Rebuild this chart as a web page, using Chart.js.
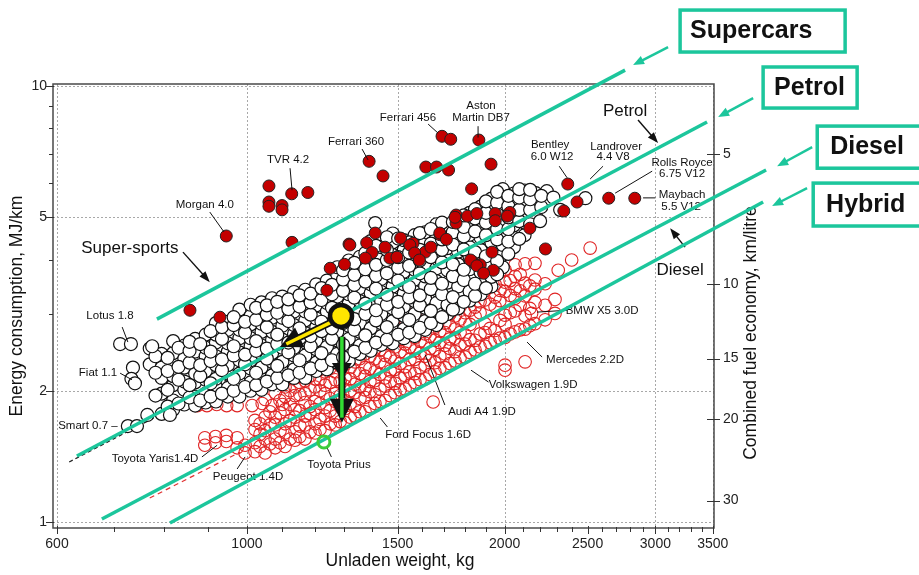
<!DOCTYPE html>
<html><head><meta charset="utf-8">
<script src="https://cdn.jsdelivr.net/npm/chart.js@4.4.0/dist/chart.umd.min.js"></script>
<style>html,body{margin:0;padding:0;background:#fff;}canvas{display:block;}</style>
</head><body>
<canvas id="c" width="919" height="575"></canvas>
<script>
// ---------------- DATA ----------------
const xTicks = [600,1000,1500,2000,2500,3000,3500];
const xMinorTicks = [700,800,900,1100,1200,1300,1400,1600,1700,1800,1900,2100,2200,2300,2400,2600,2700,2800,2900,3100,3200,3300,3400];
const xGridValues = [600,1000,1500,2000,3000,3500];
const yTicks = [1,2,5,10];
const yMinorTicks = [3,4,6,7,8,9];
const econTicks = [5,10,15,20,30];               // km/litre (right axis)
const econTickMJ = [6.98,3.52,2.37,1.72,1.12];   // their MJ/km positions

// petrol cars (white circles): [weight kg, [MJ/km ...]]
const petrolCols = [
 [770,[2.3,2.5]],
 [795,[1.77,1.97,2.14,2.26,2.43]],
 [820,[1.81,1.9,2.06,2.16,2.33,2.44,2.6]],
 [845,[1.86,2.01,2.1,2.26,2.37,2.54]],
 [870,[1.85,1.94,2.09,2.19,2.35,2.46,2.63]],
 [895,[1.88,1.97,2.12,2.22,2.4,2.51,2.69]],
 [920,[1.89,2.04,2.13,2.29,2.4,2.58,2.69,2.86]],
 [950,[1.94,2.03,2.19,2.29,2.46,2.57,2.76,2.88]],
 [980,[1.94,2.09,2.19,2.35,2.45,2.64,2.76,2.97,3.07]],
 [1010,[2.0,2.09,2.25,2.35,2.53,2.64,2.84,2.97,3.15]],
 [1040,[2.01,2.16,2.26,2.43,2.54,2.73,2.85,3.06,3.19]],
 [1070,[2.07,2.17,2.33,2.44,2.62,2.73,2.94,3.07,3.26]],
 [1100,[2.07,2.23,2.33,2.51,2.62,2.82,2.94,3.16,3.29]],
 [1135,[2.14,2.24,2.41,2.51,2.7,2.83,3.04,3.18,3.37]],
 [1170,[2.14,2.3,2.41,2.58,2.71,2.9,3.04,3.26,3.41]],
 [1205,[2.22,2.32,2.49,2.61,2.8,2.93,3.14,3.29,3.51]],
 [1240,[2.24,2.41,2.52,2.7,2.83,3.04,3.18,3.41,3.58]],
 [1275,[2.32,2.43,2.61,2.73,2.93,3.07,3.29,3.45,3.7,3.84]],
 [1315,[2.34,2.51,2.63,2.82,2.96,3.17,3.33,3.56,3.74,3.98]],
 [1355,[2.43,2.54,2.73,2.86,3.06,3.21,3.44,3.61,3.87,4.06]],
 [1395,[2.47,2.65,2.78,2.98,3.12,3.35,3.51,3.76,3.95,4.22,4.41]],
 [1435,[2.55,2.67,2.86,3.0,3.21,3.37,3.61,3.79,4.05,4.27]],
 [1480,[2.57,2.75,2.89,3.09,3.25,3.47,3.65,3.9,4.1,4.38,4.59]],
 [1525,[2.64,2.77,2.97,3.12,3.34,3.51,3.75,3.94,4.21,4.43]],
 [1570,[2.67,2.86,3.0,3.21,3.37,3.6,3.79,4.05,4.26,4.55]],
 [1615,[2.76,2.89,3.1,3.25,3.48,3.66,3.91,4.11,4.39,4.62]],
 [1665,[2.83,3.03,3.18,3.4,3.57,3.82,4.02,4.29,4.52,4.82]],
 [1715,[3.0,3.15,3.37,3.54,3.78,3.98,4.25,4.47,4.77]],
 [1765,[3.09,3.31,3.47,3.71,3.9,4.17,4.39,4.68,4.93]],
 [1820,[3.22,3.38,3.62,3.8,4.06,4.27,4.56,4.8,5.12]],
 [1875,[3.33,3.56,3.74,4.0,4.21,4.49,4.73,5.04,5.29]],
 [1930,[3.47,3.65,3.9,4.1,4.38,4.61,4.92,5.18,5.52]],
 [1990,[3.84,4.1,4.32,4.61,4.85,5.17,5.45,5.8]],
 [2050,[4.27,4.49,4.79,5.05,5.38,5.67]],
 [2110,[4.55,4.86,5.12,5.46,5.76]],
 [2175,[5.04,5.31,5.68]],
 [2240,[5.52,5.74]]
];
const petrolCols2 = [
 [782,[1.95,2.2,2.4]],
 [808,[1.84,2.01,2.22,2.38]],
 [832,[1.87,2.12,2.27,2.51]],
 [857,[1.93,2.06,2.32,2.47,2.59]],
 [882,[1.9,2.16,2.29,2.56]],
 [907,[1.94,2.08,2.34,2.46,2.74]],
 [935,[1.97,2.23,2.36,2.63,2.8]],
 [965,[2.0,2.13,2.41,2.53,2.83,2.95]],
 [995,[2.04,2.3,2.42,2.72,2.88]],
 [1025,[2.06,2.2,2.47,2.6,2.91,3.1]],
 [1055,[2.1,2.37,2.5,2.8,2.99,3.14]],
 [1085,[2.14,2.28,2.56,2.69,3.02,3.2]],
 [1118,[2.17,2.45,2.58,2.89,3.08,3.24]],
 [1152,[2.2,2.35,2.64,2.78,3.12,3.31]],
 [1187,[2.25,2.53,2.67,2.99,3.19,3.34]],
 [1222,[2.29,2.44,2.74,2.88,3.23,3.44]],
 [1257,[2.35,2.63,2.78,3.1,3.33,3.5]],
 [1295,[2.39,2.55,2.86,3.01,3.39,3.6,3.78]],
 [1335,[2.46,2.76,2.92,3.27,3.5,3.69,3.93]],
 [1375,[2.51,2.68,3.0,3.17,3.56,3.8,4.14]],
 [1415,[2.58,2.9,3.06,3.43,3.67,3.89,4.3]],
 [1457,[2.62,2.8,3.15,3.32,3.72,3.99,4.21,4.5]],
 [1502,[2.69,3.03,3.2,3.58,3.83,4.05,4.47]],
 [1547,[2.72,2.91,3.27,3.46,3.87,4.15,4.38]],
 [1592,[2.79,3.14,3.31,3.72,3.98,4.21,4.6]],
 [1640,[2.86,3.05,3.42,3.63,4.05,4.35,4.7]],
 [1690,[2.95,3.33,3.52,3.94,4.21,4.45,4.86]],
 [1740,[3.07,3.28,3.66,3.9,4.33,4.62,4.88]],
 [1792,[3.2,3.59,3.79,4.22,4.52,4.75,5.05]],
 [1847,[3.3,3.52,3.94,4.16,4.64,4.97,5.22]],
 [1902,[3.44,3.87,4.07,4.55,4.86,5.12,5.44]],
 [1960,[3.7,3.97,4.45,4.7,5.08,5.4,5.72]],
 [2020,[4.12,4.4,4.7,5.0,5.3,5.6]],
 [2080,[4.46,4.9,5.2,5.55,5.8]],
 [2142,[4.82,5.2,5.5,5.78]],
 [2207,[5.28,5.6]]
];
const petrolExtra = [[711,2.56],[732,2.56],[775,2.53],[736,2.26],[733,2.13],[740,2.08],[726,1.66],[744,1.66],
 [765,1.76],[813,1.76],[2322,5.2],[2280,5.55],[2485,5.53],[2200,4.9],[1412,4.85]];

// diesel cars (red open circles)
const dieselCols = [
 [1022,[1.45,1.52,1.63,1.71]],
 [1050,[1.44,1.55,1.62,1.74,1.91]],
 [1079,[1.48,1.55,1.67,1.74,1.98]],
 [1108,[1.49,1.6,1.68,1.81,1.94,2.04]],
 [1138,[1.54,1.61,1.74,1.81,1.95,2.04,2.14]],
 [1169,[1.55,1.67,1.75,1.88,1.97,2.11,2.2]],
 [1201,[1.6,1.68,1.81,1.89,2.04,2.13,2.26]],
 [1234,[1.62,1.75,1.83,1.97,2.06,2.21,2.29]],
 [1268,[1.67,1.75,1.89,1.97,2.12,2.21,2.35]],
 [1302,[1.69,1.82,1.9,2.05,2.14,2.3,2.39]],
 [1337,[1.75,1.84,1.98,2.07,2.22,2.33,2.48]],
 [1374,[1.79,1.93,2.01,2.16,2.26,2.43,2.54]],
 [1411,[1.87,1.96,2.11,2.21,2.37,2.49,2.66]],
 [1450,[1.9,2.05,2.14,2.3,2.41,2.59,2.71]],
 [1489,[1.98,2.08,2.24,2.34,2.52,2.64,2.81]],
 [1530,[2.02,2.17,2.27,2.44,2.56,2.74,2.88,3.03]],
 [1571,[2.09,2.19,2.36,2.47,2.65,2.78,2.98,3.13]],
 [1615,[2.13,2.29,2.4,2.57,2.7,2.89,3.03,3.26]],
 [1658,[2.21,2.32,2.49,2.61,2.8,2.94,3.15,3.34]],
 [1703,[2.26,2.43,2.54,2.72,2.86,3.06,3.21,3.43]],
 [1750,[2.34,2.46,2.64,2.77,2.97,3.11,3.33,3.5,3.73]],
 [1798,[2.39,2.56,2.69,2.88,3.02,3.23,3.39,3.62,3.77]],
 [1847,[2.48,2.61,2.96,3.11,3.32,3.49,3.73]],
 [1897,[2.53,2.72,2.85,3.23,3.39,3.62,3.81]],
 [1949,[2.61,2.75,3.12,3.28,3.51,3.69,3.88]],
 [2002,[2.65,2.84,2.98,3.38,3.55,3.79]],
 [2057,[2.73,3.05,3.26,3.43,3.66,3.89]],
 [2113,[2.77,2.97,3.3,3.53,3.91]],
 [2170,[2.85,3.19,3.42,3.59,3.92]],
 [2230,[2.91,3.14,3.52]],
 [2290,[3.01,3.24]]
];
const dieselCols2 = [
 [1036,[1.49,1.59,1.68]],
 [1064,[1.51,1.67,1.79]],
 [1093,[1.52,1.62,1.78,1.9]],
 [1123,[1.55,1.71,1.86,2.0]],
 [1153,[1.57,1.66,1.8,1.96,2.09]],
 [1185,[1.61,1.77,1.84,2.01,2.16]],
 [1217,[1.63,1.72,1.87,2.0,2.12,2.24]],
 [1251,[1.68,1.8,1.92,2.09,2.26]],
 [1285,[1.7,1.84,1.95,2.1,2.28]],
 [1320,[1.74,1.87,2.0,2.13,2.26,2.43]],
 [1355,[1.79,1.92,2.04,2.19,2.37,2.5]],
 [1392,[1.84,1.99,2.1,2.25,2.4,2.58]],
 [1430,[1.89,2.02,2.18,2.33,2.48,2.66]],
 [1470,[1.95,2.1,2.22,2.39,2.56,2.74]],
 [1510,[2.01,2.14,2.31,2.46,2.62,2.83]],
 [1550,[2.06,2.21,2.36,2.52,2.7,2.86,3.09]],
 [1593,[2.12,2.26,2.44,2.6,2.77,2.97,3.18]],
 [1636,[2.18,2.35,2.5,2.67,2.84,3.07,3.28]],
 [1680,[2.25,2.4,2.58,2.74,2.93,3.12,3.37]],
 [1726,[2.31,2.5,2.63,2.82,3.0,3.22,3.45]],
 [1774,[2.38,2.55,2.72,2.92,3.12,3.3,3.55]],
 [1822,[2.45,2.62,2.84,3.06,3.26,3.44,3.66]],
 [1872,[2.52,2.7,3.02,3.2,3.55]],
 [1923,[2.58,2.78,3.16,3.46,3.64]],
 [1975,[2.64,2.9,3.22,3.4,3.74]],
 [2030,[2.7,3.02,3.31,3.58]],
 [2085,[2.76,3.14,3.39,3.7]],
 [2140,[2.82,3.09,3.48]]
];
const dieselExtra = [[875,1.85],[898,1.85],[922,1.86],[947,1.85],[974,1.85],[1014,1.85],[1042,1.87],[1070,1.85],[1100,1.86],
 [893,1.5],[893,1.56],[919,1.52],[919,1.57],[946,1.53],[946,1.58],[974,1.48],[974,1.56],[995,1.44],[995,1.5],
 [2517,4.25],[2310,3.78],[2395,3.99],[1650,1.885],[2002,2.29],[2002,2.23],[2113,2.33],[2150,3.01]];

// sports / supercars (red filled)
const superCars = [
 [1061,5.9],[1061,5.42],[1061,5.3],[1099,5.32],[1099,5.2],[1128,5.66],[1178,5.7],[946,4.53],[858,3.06],[930,2.95],
 [1251,3.82],[1240,3.4],[1316,4.34],[1380,4.37],[1400,4.15],[1412,4.6],[1300,3.9],[1129,4.38],
 [1389,6.72],[1442,6.22],[1690,7.67],[1730,7.55],[1866,7.52],[1618,6.52],[1665,6.52],[1720,6.42],[1928,6.62],[1830,5.81],
 [2370,5.96],[2430,5.42],[2345,5.17],[2646,5.53],[2838,5.53],[2140,4.72],[2232,4.23],
 [1755,5.06],[1810,5.03],[1856,5.1],[1950,5.1],[2028,5.13],[1950,4.91],[2015,5.03],[1755,4.85],
 [1512,4.48],[1450,4.27],[1563,4.36],[1615,4.16],[1681,4.56],[1750,5.0],[1837,3.95],[1873,3.89],[1940,3.78],
 [1933,4.16],[1469,4.03],[1375,4.03],[1550,4.32],[1680,4.6],[1710,4.45],[1640,4.27],[1497,4.05],[1570,4.14],
 [1590,3.99],[1825,3.99],[1856,3.87],[1890,3.72],[1319,4.32]
];

const priusPt = [[1230,1.526]];
const focusPt = [[1288,2.97]];

// trend lines [weight, MJ/km]
const superLine  = [[785,2.92],[2765,10.88]];
const petrolLine = [[633,1.417],[3447,8.27]];
const dieselLine = [[677,1.016],[4040,6.42]];
const hybridLine = [[813,0.995],[4008,5.42]];
const petrolFit  = [[620,1.373],[1000,2.24]];
const dieselFit  = [[770,1.135],[982,1.447]];

// annotations (anchored in data coordinates)
const noteLabels = [
 ['TVR 4.2',1117,6.77],['Morgan 4.0',893,5.34],['Ferrari 360',1341,7.44],['Ferrari 456',1542,8.45],
 ['Aston',1877,9.0],['Martin DB7',1877,8.45],['Bentley',2260,7.32],['6.0 W12',2272,6.87],
 ['Landrover',2699,7.24],['4.4 V8',2677,6.87],['Rolls Royce',3223,6.66],['6.75 V12',3223,6.28],
 ['Maybach',3223,5.62],['5.5 V12',3215,5.28],['Lotus 1.8',692,2.97],['Fiat 1.1',670,2.195],
 ['Smart 0.7 \u2013',652,1.66],['Toyota Yaris1.4D',781,1.395],['Peugeot 1.4D',1003,1.268],
 ['Toyota Prius',1281,1.351],['Ford Focus 1.6D',1628,1.582],['Audi A4 1.9D',1882,1.787],
 ['Volkswagen 1.9D',2159,2.062],['Mercedes 2.2D',2483,2.35],['BMW X5 3.0D',2599,3.05]
];
const bigLabels = [['Super-sports',730,4.25],['Petrol',2765,8.76],['Diesel',3206,3.78]];
const leaders = [
 [[1123,6.48],[1129,5.77]],[[905,5.14],[940,4.63]],[[1363,7.17],[1385,6.77]],[[1628,8.18],[1672,7.8]],
 [[1862,8.09],[1862,7.62]],[[2316,6.55],[2366,6.16]],[[2606,6.55],[2517,6.12]],[[2974,6.38],[2692,5.68]],
 [[2902,5.54],[3000,5.54]],[[715,2.8],[726,2.587]],[[711,2.195],[734,2.12]],[[886,1.41],[923,1.5]],
 [[974,1.323],[995,1.41]],[[1241,1.478],[1255,1.41]],[[1431,1.732],[1459,1.652]],[[1615,2.42],[1703,1.855]],
 [[1827,2.23],[1915,2.094]],[[2124,2.587],[2212,2.39]],[[2182,3.03],[2366,3.06]]
];
const noteArrows = [[[842,4.16],[905,3.55]],[[2863,8.36],[3022,7.4]],[[3249,4.27],[3121,4.72]]];
const yellowArrow = [[1267,2.9],[1093,2.52]];
const greenArrow = [[1291,2.66],[1291,1.69]];
const greenGhostHead = [[1291,2.316],[1291,2.12]];
const callouts = [
 ['Supercars',[3206,14.94],[4997,11.97],[3293,13.37],[[3104,12.29],[2825,11.17]]],
 ['Petrol',[4008,11.06],[5161,8.904],[4128,9.895],[[3902,9.387],[3551,8.49]]],
 ['Diesel',[4636,8.095],[6300,6.48],[4800,7.24],[[4573,7.24],[4162,6.55]]],
 ['Hybrid',[4586,5.99],[6300,4.775],[4748,5.34],[[4511,5.834],[4106,5.307]]]
];

// ---------------- CHART ----------------
const FONT = '"Liberation Sans", Arial, Helvetica, sans-serif';
const TEAL = '#1cc69c';
const pts = a => a.map(([x,y]) => ({x, y}));
const cols = c => c.flatMap(([w,es]) => es.map(e => ({x:w, y:e})));

function P(chart, p){ return [chart.scales.x.getPixelForValue(p[0]), chart.scales.y.getPixelForValue(p[1])]; }
function seg(ctx,a,b,lw,col){ ctx.strokeStyle=col; ctx.lineWidth=lw; ctx.beginPath(); ctx.moveTo(a[0],a[1]); ctx.lineTo(b[0],b[1]); ctx.stroke(); }
function head(ctx,from,tip,len,w,col){
  const dx=tip[0]-from[0], dy=tip[1]-from[1], d=Math.hypot(dx,dy), ux=dx/d, uy=dy/d;
  const bx=tip[0]-ux*len, by=tip[1]-uy*len;
  ctx.fillStyle=col; ctx.beginPath(); ctx.moveTo(tip[0],tip[1]);
  ctx.lineTo(bx-uy*w/2, by+ux*w/2); ctx.lineTo(bx+uy*w/2, by-ux*w/2); ctx.closePath(); ctx.fill();
  return [bx,by];
}
function arrow(ctx,a,b,lw,col,len,w){
  const dx=b[0]-a[0], dy=b[1]-a[1], d=Math.hypot(dx,dy);
  const base=[b[0]-dx/d*len*0.8, b[1]-dy/d*len*0.8];
  seg(ctx,a,base,lw,col); head(ctx,a,b,len,w,col);
}

let labelsDrawn = false;
function drawLabels(chart){
  const ctx = chart.ctx; ctx.save();
  ctx.fillStyle='#111'; ctx.textAlign='center'; ctx.textBaseline='middle';
  ctx.font = '11.5px '+FONT;
  noteLabels.forEach(([t,x,y]) => { const p=P(chart,[x,y]); ctx.fillText(t,p[0],p[1]); });
  ctx.font = '17px '+FONT;
  bigLabels.forEach(([t,x,y]) => { const p=P(chart,[x,y]); ctx.fillText(t,p[0],p[1]); });
  leaders.forEach(([a,b]) => seg(ctx,P(chart,a),P(chart,b),1,'#111'));
  noteArrows.forEach(([a,b]) => arrow(ctx,P(chart,a),P(chart,b),1.4,'#111',11,8));
  ctx.restore();
}
function drawFocus(chart){
  const ctx = chart.ctx; ctx.save(); ctx.lineCap='butt';
  const g0=P(chart,greenArrow[0]), g1=P(chart,greenArrow[1]);
  const h0=P(chart,greenGhostHead[0]), h1=P(chart,greenGhostHead[1]);
  head(ctx,h0,h1,Math.hypot(h1[0]-h0[0],h1[1]-h0[1]),20,'#111');
  const gb = head(ctx,g0,g1,24,24,'#111');
  seg(ctx,g0,gb,7,'#111');
  seg(ctx,g0,[g1[0],g1[1]-5],3.5,'#33dd33');
  const y0=P(chart,yellowArrow[0]), y1=P(chart,yellowArrow[1]);
  const yb = head(ctx,y0,y1,22,22,'#111');
  seg(ctx,y0,yb,7,'#111');
  const dx=y1[0]-y0[0], dy=y1[1]-y0[1], d=Math.hypot(dx,dy);
  seg(ctx,y0,[y1[0]-dx/d*7,y1[1]-dy/d*7],3.5,'#ffe600');
  ctx.restore();
}

const deco = {
  id:'deco',
  beforeDatasetsDraw(chart){
    const {ctx, chartArea:a, scales:{x,y}} = chart;
    ctx.save();
    ctx.strokeStyle='#a8a8a8'; ctx.lineWidth=1; ctx.setLineDash([2,2]);
    xGridValues.forEach(v => { const px=Math.round(x.getPixelForValue(v))+0.5; ctx.beginPath(); ctx.moveTo(px,a.top); ctx.lineTo(px,a.bottom); ctx.stroke(); });
    yTicks.forEach(v => { const py=Math.round(y.getPixelForValue(v))+0.5; ctx.beginPath(); ctx.moveTo(a.left,py); ctx.lineTo(a.right,py); ctx.stroke(); });
    ctx.setLineDash([]);
    ctx.strokeStyle='#4a4a4a'; ctx.lineWidth=1.5;
    ctx.strokeRect(a.left, a.top, a.right-a.left, a.bottom-a.top);
    ctx.lineWidth=1; ctx.strokeStyle='#333';
    const tk=(x1,y1,x2,y2)=>{ctx.beginPath();ctx.moveTo(x1,y1);ctx.lineTo(x2,y2);ctx.stroke();};
    xTicks.forEach(v => { const px=Math.round(x.getPixelForValue(v))+0.5; tk(px,a.bottom-2,px,a.bottom+6); });
    xMinorTicks.forEach(v => { const px=Math.round(x.getPixelForValue(v))+0.5; tk(px,a.bottom-1,px,a.bottom+4); });
    yTicks.forEach(v => { const py=Math.round(y.getPixelForValue(v))+0.5; tk(a.left-7,py,a.left+1,py); });
    yMinorTicks.forEach(v => { const py=Math.round(y.getPixelForValue(v))+0.5; tk(a.left-4,py,a.left,py); });
    econTickMJ.forEach(v => { const py=Math.round(y.getPixelForValue(v))+0.5; tk(a.right-7,py,a.right+6,py); });
    ctx.fillStyle='#111'; ctx.font='17.5px '+FONT; ctx.textAlign='center';
    ctx.textBaseline='alphabetic'; ctx.fillText('Unladen weight, kg', 400, 566);
    ctx.textBaseline='middle';
    ctx.save(); ctx.translate(17,306); ctx.rotate(-Math.PI/2); ctx.fillText('Energy consumption, MJ/km',0,0); ctx.restore();
    ctx.save(); ctx.translate(751,333); ctx.rotate(-Math.PI/2); ctx.fillText('Combined fuel economy, km/litre',0,0); ctx.restore();
    ctx.restore();
    labelsDrawn = false;
  },
  beforeDatasetDraw(chart,args){
    const ds = chart.data.datasets[args.index];
    if (ds.role==='teal' && !labelsDrawn){ drawLabels(chart); labelsDrawn=true; }
    if (ds.role==='focus'){ drawFocus(chart); }
  },
  afterDatasetsDraw(chart){
    const ctx = chart.ctx; ctx.save();
    callouts.forEach(([t,b1,b2,tp,arr]) => {
      const p1=P(chart,b1), p2=P(chart,b2), q=P(chart,tp);
      arrow(ctx,P(chart,arr[0]),P(chart,arr[1]),2.5,TEAL,11,9);
      ctx.fillStyle='#fff'; ctx.fillRect(p1[0],p1[1],p2[0]-p1[0],p2[1]-p1[1]);
      ctx.strokeStyle=TEAL; ctx.lineWidth=3.5; ctx.strokeRect(p1[0],p1[1],p2[0]-p1[0],p2[1]-p1[1]);
      ctx.fillStyle='#111'; ctx.font='bold 25px '+FONT; ctx.textAlign='left'; ctx.textBaseline='middle';
      ctx.fillText(t,q[0],q[1]);
    });
    ctx.restore();
  }
};

const lineDs = (data, role) => ({data: pts(data), showLine:true, borderColor:TEAL, borderWidth:3.5, pointRadius:0, clip:false, order:3, role});

new Chart(document.getElementById('c'), {
  type:'scatter',
  data:{ datasets:[
    {data:pts(focusPt), pointRadius:11, borderWidth:4.5, borderColor:'#111', backgroundColor:'#ffe600', order:1, role:'focus'},
    {data:pts(priusPt), pointRadius:6, borderWidth:3, borderColor:'#3ccc3c', backgroundColor:'rgba(0,0,0,0)', order:2},
    lineDs(superLine,'teal'), lineDs(petrolLine,'teal'), lineDs(dieselLine,'teal'), lineDs(hybridLine,'teal'),
    {data:pts(superCars), pointRadius:6, borderWidth:1, borderColor:'#222', backgroundColor:'#c40000', order:5},
    {data:cols(petrolCols).concat(cols(petrolCols2), pts(petrolExtra)), pointRadius:6.5, borderWidth:1.2, borderColor:'#111', backgroundColor:'#fff', order:6},
    {data:cols(dieselCols).concat(cols(dieselCols2), pts(dieselExtra)), pointRadius:6.3, borderWidth:1.1, borderColor:'#e02424', backgroundColor:'rgba(0,0,0,0)', order:7},
    {data:pts(petrolFit), showLine:true, borderColor:'#222', borderWidth:1.3, borderDash:[4,3], pointRadius:0, order:8},
    {data:pts(dieselFit), showLine:true, borderColor:'#e03030', borderWidth:1.2, borderDash:[5,4], pointRadius:0, order:8}
  ]},
  options:{
    responsive:false, animation:false, events:[], devicePixelRatio:1,
    layout:{padding:{top:84,left:0,right:0,bottom:0}},
    plugins:{legend:{display:false}, tooltip:{enabled:false}},
    scales:{
      x:{type:'logarithmic', position:'bottom', min:593.6, max:3512, bounds:'data',
         afterBuildTicks:s=>{ s.ticks = xTicks.map(v=>({value:v})); },
         afterFit:s=>{ s.height = 47; },
         grid:{display:false, drawTicks:false}, border:{display:false},
         ticks:{autoSkip:false, maxRotation:0, padding:8, color:'#222', font:{family:FONT,size:14}, callback:v=>String(v)}},
      y:{type:'logarithmic', position:'left', min:0.9688, max:10.11, bounds:'data',
         afterBuildTicks:s=>{ s.ticks = yTicks.map(v=>({value:v})); },
         afterFit:s=>{ s.width = 53; },
         grid:{display:false, drawTicks:false}, border:{display:false},
         ticks:{autoSkip:false, padding:6, color:'#222', font:{family:FONT,size:14}, callback:v=>String(v)}},
      y2:{type:'logarithmic', position:'right', min:0.9688, max:10.11, bounds:'data',
         afterBuildTicks:s=>{ s.ticks = econTickMJ.map(v=>({value:v})); },
         afterFit:s=>{ s.width = 205; },
         grid:{display:false, drawTicks:false}, border:{display:false},
         ticks:{autoSkip:false, padding:9, color:'#222', font:{family:FONT,size:14}, callback:(v,i)=>String(econTicks[i])}}
    }
  },
  plugins:[deco]
});
</script>
</body></html>
